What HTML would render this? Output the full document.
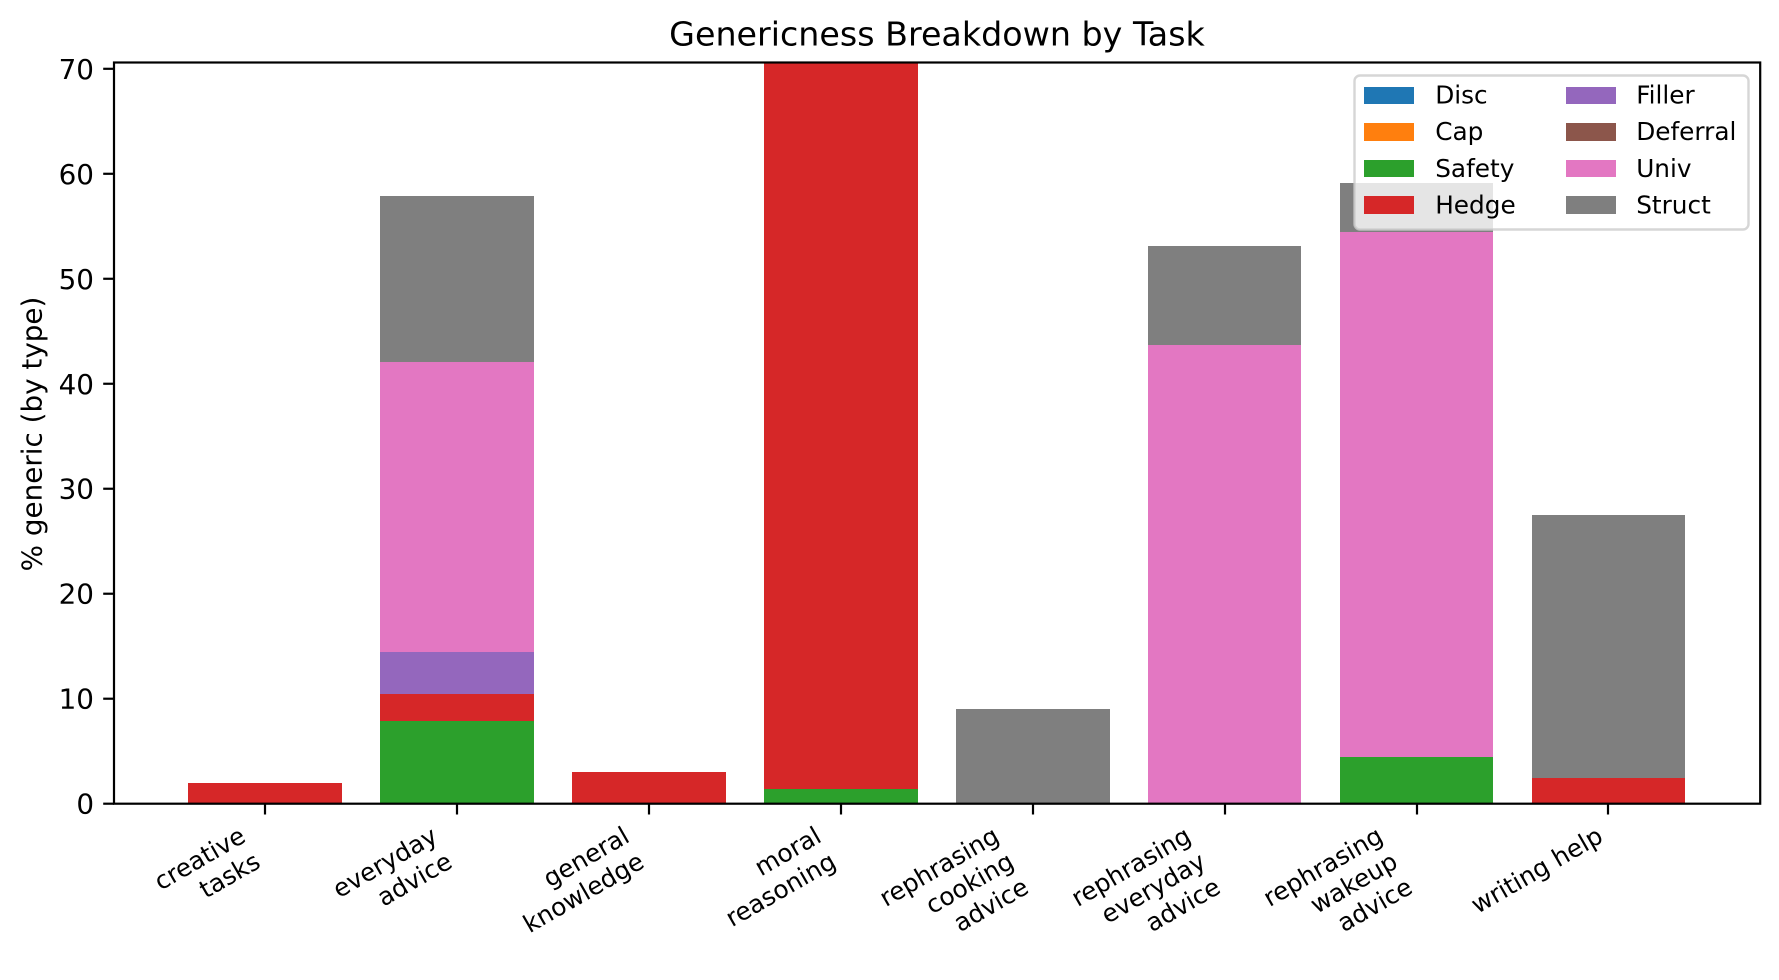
<!DOCTYPE html>
<html>
<head>
<meta charset="utf-8">
<title>Genericness Breakdown by Task</title>
<style>
html,body{margin:0;padding:0;background:#fff;}
svg{display:block;}
text{font-family:"DejaVu Sans","Liberation Sans",sans-serif;fill:#000;}
</style>
</head>
<body>
<svg id="chart" xmlns="http://www.w3.org/2000/svg" width="1779" height="980" viewBox="0 0 1779 980">
  <rect x="0" y="0" width="1779" height="980" fill="#fff"/>
  <defs><clipPath id="plot-clip"><rect x="113.5" y="62.5" width="1647" height="741.2"/></clipPath></defs>
  <g id="bars" clip-path="url(#plot-clip)"></g>
  <g id="axes-ticks"></g>
  <rect x="114" y="62.5" width="1646.2" height="741.2" fill="none" stroke="#000" stroke-width="2.2"/>
  <g id="x-labels"></g>
  <text x="937" y="45.6" font-size="33.3" text-anchor="middle">Genericness Breakdown by Task</text>
  <text transform="translate(41.5,434) rotate(-90)" font-size="27.8" text-anchor="middle">% generic (by type)</text>
  <g id="legend">
    <rect x="1354.5" y="75.5" width="394" height="154" rx="5.5" ry="5.5" fill="#fff" fill-opacity="0.8" stroke="#ccc" stroke-opacity="0.8" stroke-width="2.4"/>
  </g>
</svg>
<script>
const categories = ["creative\ntasks", "everyday\nadvice", "general\nknowledge", "moral\nreasoning", "rephrasing\ncooking\nadvice", "rephrasing\neveryday\nadvice", "rephrasing\nwakeup\nadvice", "writing help"];
const seriesNames = ["Disc", "Cap", "Safety", "Hedge", "Filler", "Deferral", "Univ", "Struct"];
const seriesColors = ["#1f77b4", "#ff7f0e", "#2ca02c", "#d62728", "#9467bd", "#8c564b", "#e377c2", "#7f7f7f"];
const disc     = [0, 0, 0, 0, 0, 0, 0, 0];
const cap      = [0, 0, 0, 0, 0, 0, 0, 0];
const safety   = [0, 7.9, 0, 1.4, 0, 0, 4.45, 0];
const hedge    = [2.0, 2.55, 3.0, 69.2, 0, 0, 0, 2.45];
const filler   = [0, 4.0, 0, 0, 0, 0, 0, 0];
const deferral = [0, 0, 0, 0, 0, 0, 0, 0];
const univ     = [0, 27.6, 0, 0, 0, 43.7, 50.05, 0];
const struct   = [0, 15.85, 0, 0, 9.0, 9.4, 4.6, 25.05];
const yTicks = [0, 10, 20, 30, 40, 50, 60, 70];

const seriesValues = [disc, cap, safety, hedge, filler, deferral, univ, struct];
const NS = "http://www.w3.org/2000/svg";
const plotLeft = 113.65, plotWidth = 1646.5, plotTop = 62.5, plotBottom = 803.7;
const barWidth = 0.8;
const barMargin = 0.39;
const yMax = 70.6;

function xScale(v) {
  const lo = -barWidth / 2 - barMargin;
  const hi = categories.length - 1 + barWidth / 2 + barMargin;
  return plotLeft + (v - lo) / (hi - lo) * plotWidth;
}
function yScale(v) {
  return plotBottom - v / yMax * (plotBottom - plotTop);
}
function make(tag, attrs, parent) {
  const el = document.createElementNS(NS, tag);
  for (const k in attrs) el.setAttribute(k, attrs[k]);
  parent.appendChild(el);
  return el;
}

/* bars: edges snapped to whole pixels */
const barsGroup = document.getElementById("bars");
categories.forEach(function (cat, i) {
  let base = 0;
  seriesValues.forEach(function (vals, s) {
    const v = vals[i];
    const left = Math.round(xScale(i - barWidth / 2));
    const right = Math.round(xScale(i + barWidth / 2) - 0.1);
    const top = Math.round(yScale(base + v));
    const bottom = Math.round(yScale(base));
    const bar = make("rect", {x: left, y: top, width: right - left, height: Math.max(0, bottom - top), fill: seriesColors[s]}, barsGroup);
    
    
    base += v;
  });
});

/* ticks */
const ticksGroup = document.getElementById("axes-ticks");
yTicks.forEach(function (t) {
  const y = yScale(t);
  const tick = make("line", {x1: 114, x2: 114 - 10.8, y1: y, y2: y, stroke: "#000", "stroke-width": 2.2}, ticksGroup);
  
  
  const label = make("text", {x: 94, y: y + 10, "font-size": 27.8, "text-anchor": "end"}, ticksGroup);
  label.textContent = String(t);
  
  
});
categories.forEach(function (cat, i) {
  const x = Math.floor(xScale(i) + 0.4);
  const tick = make("line", {x1: x, x2: x, y1: plotBottom, y2: plotBottom + 10.8, stroke: "#000", "stroke-width": 2.2}, ticksGroup);
  
  
});

/* rotated category labels: bounding box right edge sits on the tick */
const labelsGroup = document.getElementById("x-labels");
const lineStep = 29.5, labelAscent = 20, labelFirst = 28, labelBlockStep = 28, labelTop = 823.5;
categories.forEach(function (cat, i) {
  const lines = cat.split("\n");
  const h = labelFirst + labelBlockStep * (lines.length - 1);
  const ox = xScale(i) - h * Math.sin(Math.PI / 6);
  const group = make("g", {transform: "translate(" + ox + "," + labelTop + ") rotate(-30)"}, labelsGroup);
  
  
  lines.forEach(function (ln, k) {
    const t = make("text", {x: 0, y: labelAscent + k * lineStep, "font-size": 24.75, "text-anchor": "end"}, group);
    t.textContent = ln;
    
    
  });
});

/* legend */
const legendGroup = document.getElementById("legend");
const legendColX = [1364, 1566], legendTextX = [1435.2, 1636.2];
const legendRowY = [87, 123, 160, 196], legendRowH = [17, 18, 17, 18], legendBase = [103.5, 140, 176.8, 213.6];
seriesNames.forEach(function (name, s) {
  const col = Math.floor(s / 4), row = s % 4;
  const swatch = make("rect", {x: legendColX[col], y: legendRowY[row], width: 50, height: legendRowH[row], fill: seriesColors[s]}, legendGroup);
  
  
  const label = make("text", {x: legendTextX[col], y: legendBase[row], "font-size": 24.75}, legendGroup);
  label.textContent = name;
  
  
});
</script>
</body>
</html>
